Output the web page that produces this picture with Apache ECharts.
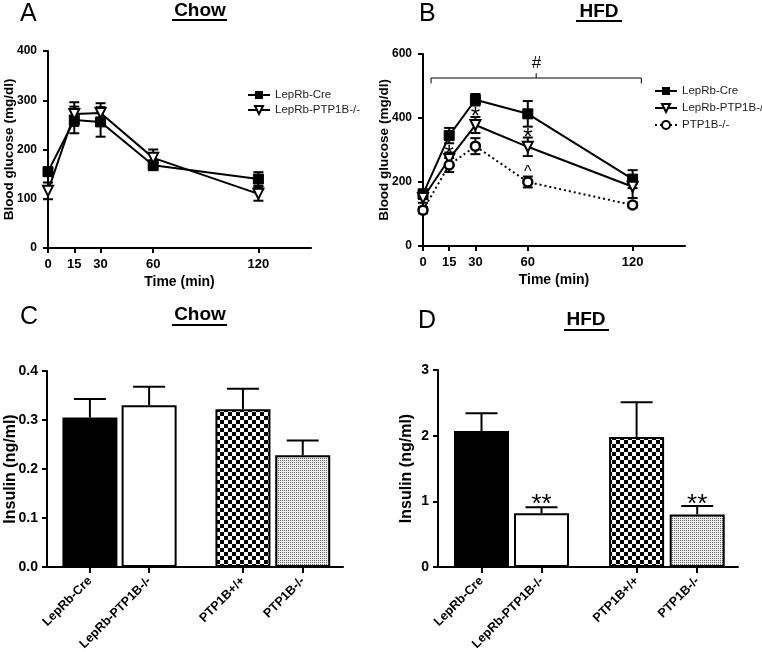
<!DOCTYPE html>
<html><head><meta charset="utf-8">
<script src="https://cdn.jsdelivr.net/npm/echarts@6/dist/echarts.min.js"></script>
<style>html,body{margin:0;padding:0;background:#fff}#c{width:762px;height:652px}</style>
</head><body><div id="c"></div>
<script>
// ---------- data ----------
const times = [0, 15, 30, 60, 120];
const timeTicks = [0, 15, 30, 60, 120];
// Panel A (Chow, glucose)
const chowCre = [155, 260, 256, 168, 140];
const chowCreErr = [8, 27, 30, 10, 14];
const chowKO = [116, 272, 274, 183, 110];
const chowKOErr = [17, 24, 20, 17, 14];
// Panel B (HFD, glucose)
const hfdCre = [162, 345, 457, 413, 209];
const hfdCreErr = [15, 24, 18, 40, 28];
const hfdKO = [150, 272, 378, 310, 185];
const hfdKOErr = [15, 20, 25, 29, 35];
const hfdNull = [112, 253, 312, 200, 128];
const hfdNullErr = [10, 22, 25, 17, 8];
const bracketB = [[4.6, 125, 525, 508, 540]]; // xStart, xEnd, y, yEnds, yTick
const annB = [[15, 300, '*'], [30, 419, '*'], [60, 353, '*'], [60, 237, '^'], [65, 572, '#']];
// Panels C, D (insulin)
const groups = ['LepRb-Cre', 'LepRb-PTP1B-/-', 'PTP1B+/+', 'PTP1B-/-'];
const insChow = [0.305, 0.330, 0.322, 0.228];
const insChowErr = [0.038, 0.038, 0.042, 0.030];
const insHfd = [2.07, 0.82, 1.98, 0.80];
const insHfdErr = [0.27, 0.09, 0.53, 0.13];
const annD = [[1, 1.04, '**'], [3, 1.04, '**']]; // group index, y, text

// ---------- helpers ----------
const FONT = '"Liberation Sans", Arial, sans-serif';
const slot = [0.145, 0.345, 0.662, 0.864];
const glyphRaise = { '*': 0.22, '**': 0.22, '^': 0.17, '#': 0.0 };

function checker(n) {
  const c = document.createElement('canvas'); c.width = c.height = 2 * n;
  const g = c.getContext('2d');
  g.fillStyle = '#fff'; g.fillRect(0, 0, 2 * n, 2 * n);
  g.fillStyle = '#000'; g.fillRect(0, 0, n, n); g.fillRect(n, n, n, n);
  return c;
}
function dots() {
  const c = document.createElement('canvas'); c.width = c.height = 2;
  const g = c.getContext('2d');
  g.fillStyle = '#ececec'; g.fillRect(0, 0, 2, 2);
  g.fillStyle = '#6a6a6a'; g.fillRect(0, 0, 1, 1);
  return c;
}
const fills = ['#000', '#fff', { image: checker(4), repeat: 'repeat' }, { image: dots(), repeat: 'repeat' }];

function errSeries(idx, xs, ys, es, capHalf, upperOnly) {
  return {
    type: 'custom', xAxisIndex: idx, yAxisIndex: idx, z: 1, silent: true,
    data: ys.map((v, i) => [xs[i], v, es[i]]),
    renderItem: (p, api) => {
      const x = api.value(0), y = api.value(1), e = api.value(2);
      const t = api.coord([x, y + e]);
      const b = api.coord([x, upperOnly ? y : y - e]);
      const st = { stroke: '#000', lineWidth: 2 };
      const ch = [
        { type: 'line', shape: { x1: t[0], y1: t[1], x2: b[0], y2: b[1] }, style: st },
        { type: 'line', shape: { x1: t[0] - capHalf, y1: t[1], x2: t[0] + capHalf, y2: t[1] }, style: st }
      ];
      if (!upperOnly) ch.push({ type: 'line', shape: { x1: b[0] - capHalf, y1: b[1], x2: b[0] + capHalf, y2: b[1] }, style: st });
      return { type: 'group', children: ch };
    }
  };
}
function textSeries(idx, data, sizes) {
  return {
    type: 'custom', xAxisIndex: idx, yAxisIndex: idx, z: 5, silent: true,
    data: data,
    renderItem: (p, api) => {
      const pt = api.coord([api.value(0), api.value(1)]);
      const t = data[p.dataIndex][2];
      const fs = sizes[t];
      return { type: 'text', x: pt[0], y: pt[1] + fs * (glyphRaise[t] || 0),
        style: { text: t, font: fs + 'px ' + FONT, fill: '#000',
          align: 'center', verticalAlign: 'middle', textAlign: 'center', textVerticalAlign: 'middle' } };
    }
  };
}
function lineAxisX(idx) {
  return {
    type: 'value', gridIndex: idx, min: 0, max: 150,
    name: 'Time (min)', nameLocation: 'middle', nameGap: 27, nameMoveOverlap: false,
    nameTextStyle: { fontFamily: FONT, fontWeight: 'bold', fontSize: 14, color: '#000' },
    axisLine: { lineStyle: { color: '#000', width: 2 } },
    axisTick: { show: true, length: 5, lineStyle: { width: 2, color: '#000' }, customValues: timeTicks },
    axisLabel: { customValues: timeTicks, fontFamily: FONT, fontWeight: 'bold', fontSize: 13, color: '#000', margin: 10 },
    splitLine: { show: false }
  };
}
function valAxisY(idx, max, interval, name, nameGap, labSize, fmt, nameSize, nameWeight, margin) {
  return {
    type: 'value', gridIndex: idx, min: 0, max: max, interval: interval,
    name: name, nameLocation: 'middle', nameGap: nameGap, nameMoveOverlap: false,
    nameTextStyle: { fontFamily: FONT, fontWeight: nameWeight, fontSize: nameSize, color: '#000' },
    axisLine: { show: true, lineStyle: { color: '#000', width: 2 } },
    axisTick: { show: true, length: 5, lineStyle: { width: 2, color: '#000' } },
    axisLabel: { fontFamily: FONT, fontWeight: 'bold', fontSize: labSize, color: '#000', margin: margin, formatter: fmt },
    splitLine: { show: false }
  };
}
function barAxisX(idx) {
  return {
    type: 'value', gridIndex: idx, min: 0, max: 1,
    axisLine: { lineStyle: { color: '#000', width: 2 } },
    axisTick: { show: true, length: 6, lineStyle: { width: 2, color: '#000' }, customValues: slot },
    axisLabel: { customValues: slot, rotate: 45, margin: 12, fontFamily: FONT, fontWeight: 'bold', fontSize: 12.5, color: '#000',
      formatter: v => { const i = slot.findIndex(s => Math.abs(s - v) < 1e-6); return i >= 0 ? groups[i] : ''; } },
    splitLine: { show: false }
  };
}
function barSeries(idx, vals) {
  return {
    type: 'bar', xAxisIndex: idx, yAxisIndex: idx, barWidth: 55, z: 2, silent: true,
    data: vals.map((v, i) => ({ value: [slot[i], v], itemStyle: { color: fills[i], borderColor: '#000', borderWidth: 2 } }))
  };
}
const sym = {
  cre: { symbol: 'rect', symbolSize: 10, itemStyle: { color: '#000', borderColor: '#000' } },
  ko: { symbol: 'triangle', symbolRotate: 180, symbolSize: 10, itemStyle: { color: '#fff', borderColor: '#000', borderWidth: 2 } },
  nul: { symbol: 'circle', symbolSize: 9, itemStyle: { color: '#fff', borderColor: '#000', borderWidth: 2.5 } }
};
function lineSeries(idx, name, vals, s, dotted) {
  return Object.assign({
    type: 'line', name: name, xAxisIndex: idx, yAxisIndex: idx, z: 3, silent: true,
    data: vals.map((v, i) => [times[i], v]),
    lineStyle: { color: '#000', width: 2, type: dotted ? [2, 3] : 'solid' },
    showSymbol: true
  }, JSON.parse(JSON.stringify(s)));
}

const chart = echarts.init(document.getElementById('c'), null, { renderer: 'canvas' });
const txt = (t, x, y, font, align) => ({ type: 'text', x: x, y: y,
  style: { text: t, font: font, fill: '#000', align: align, verticalAlign: 'middle', textAlign: align, textVerticalAlign: 'middle' } });
const ul = (x1, x2, y) => ({ type: 'line', shape: { x1: x1, y1: y, x2: x2, y2: y }, style: { stroke: '#000', lineWidth: 2 } });
const big = '25px ' + FONT, head = 'bold 19px ' + FONT;
const gridBase = { outerBoundsMode: 'none', containLabel: false };

chart.setOption({
  animation: false,
  backgroundColor: '#fff',
  grid: [
    Object.assign({ left: 48, top: 51, width: 263, height: 197 }, gridBase),
    Object.assign({ left: 423, top: 54, width: 262, height: 192 }, gridBase),
    Object.assign({ left: 47, top: 371, width: 296, height: 196 }, gridBase),
    Object.assign({ left: 438, top: 370, width: 300, height: 197 }, gridBase)
  ],
  xAxis: [lineAxisX(0), lineAxisX(1), barAxisX(2), barAxisX(3)],
  yAxis: [
    valAxisY(0, 400, 100, 'Blood glucose (mg/dl)', 32, 12, null, 13.5, 'bold', 11),
    valAxisY(1, 600, 200, 'Blood glucose (mg/dl)', 32, 12, null, 13.5, 'bold', 11),
    valAxisY(2, 0.4, 0.1, 'Insulin (ng/ml)', 28, 14, v => v.toFixed(1), 16, 'bold', 9),
    valAxisY(3, 3, 1, 'Insulin (ng/ml)', 23, 14, null, 16, 'bold', 9)
  ],
  legend: [
    { data: ['LepRb-Cre', 'LepRb-PTP1B-/-'], orient: 'vertical', left: 242, top: 84, itemWidth: 22, itemHeight: 10, itemGap: 3,
      textStyle: { fontFamily: FONT, fontSize: 11.5, color: '#222' }, selectedMode: false },
    { data: ['LepRb-Cre', 'LepRb-PTP1B-/-', 'PTP1B-/-'], orient: 'vertical', left: 649, top: 80, itemWidth: 22, itemHeight: 10, itemGap: 5,
      textStyle: { fontFamily: FONT, fontSize: 11.5, color: '#222' }, selectedMode: false }
  ],
  graphic: [
    txt('A', 20, 14, big, 'left'), txt('Chow', 200, 11, head, 'center'), ul(172, 227, 20),
    txt('B', 419, 14, big, 'left'), txt('HFD', 599, 11.5, head, 'center'), ul(576, 622, 21),
    txt('C', 20, 317, big, 'left'), txt('Chow', 200, 315, head, 'center'), ul(172, 227, 325),
    txt('D', 418, 321, big, 'left'), txt('HFD', 586, 320, head, 'center'), ul(564, 609, 330)
  ],
  series: [
    errSeries(0, times, chowCre, chowCreErr, 5, false),
    errSeries(0, times, chowKO, chowKOErr, 5, false),
    lineSeries(0, 'LepRb-Cre', chowCre, sym.cre, false),
    lineSeries(0, 'LepRb-PTP1B-/-', chowKO, sym.ko, false),

    errSeries(1, times, hfdCre, hfdCreErr, 5, false),
    errSeries(1, times, hfdKO, hfdKOErr, 5, false),
    errSeries(1, times, hfdNull, hfdNullErr, 5, false),
    lineSeries(1, 'LepRb-Cre', hfdCre, sym.cre, false),
    lineSeries(1, 'LepRb-PTP1B-/-', hfdKO, sym.ko, false),
    lineSeries(1, 'PTP1B-/-', hfdNull, sym.nul, true),
    {
      type: 'custom', xAxisIndex: 1, yAxisIndex: 1, silent: true, z: 4, data: bracketB,
      renderItem: (p, api) => {
        const a = api.coord([api.value(0), api.value(2)]);
        const b = api.coord([api.value(1), api.value(2)]);
        const ea = api.coord([api.value(0), api.value(3)]);
        const m = api.coord([(api.value(0) + api.value(1)) / 2, api.value(4)]);
        const st = { stroke: '#000', lineWidth: 1 };
        return { type: 'group', children: [
          { type: 'line', shape: { x1: a[0], y1: a[1], x2: b[0], y2: b[1] }, style: st },
          { type: 'line', shape: { x1: a[0], y1: a[1], x2: a[0], y2: ea[1] }, style: st },
          { type: 'line', shape: { x1: b[0], y1: b[1], x2: b[0], y2: ea[1] }, style: st },
          { type: 'line', shape: { x1: m[0], y1: a[1], x2: m[0], y2: m[1] }, style: st }
        ] };
      }
    },
    textSeries(1, annB, { '*': 24, '^': 16, '#': 17 }),

    errSeries(2, slot, insChow, insChowErr, 16, true),
    barSeries(2, insChow),

    errSeries(3, slot, insHfd, insHfdErr, 16, true),
    barSeries(3, insHfd),
    textSeries(3, annD.map(a => [slot[a[0]], a[1], a[2]]), { '**': 26 })
  ]
});
</script>
</body></html>
